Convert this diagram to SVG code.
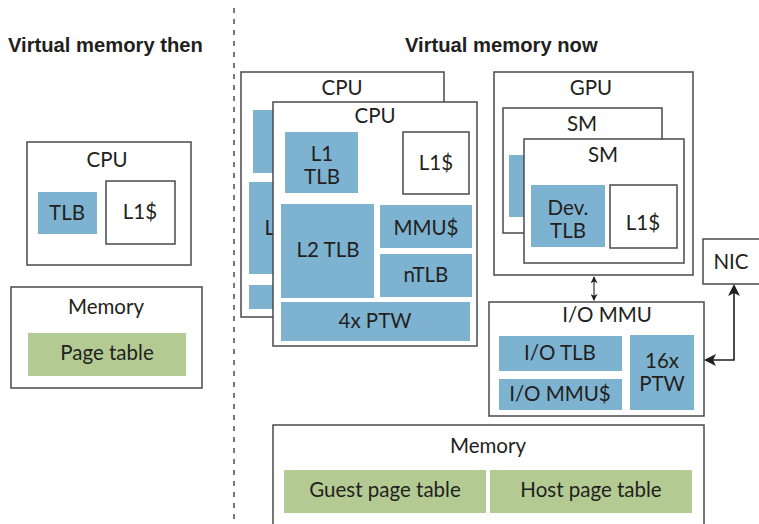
<svg xmlns="http://www.w3.org/2000/svg" width="759" height="524" viewBox="0 0 759 524">
  <defs>
    <style>
      .box { fill: #ffffff; stroke: #4a4a4a; stroke-width: 1.5; }
      .blue { fill: #7db3d1; }
      .green { fill: #b3cb93; }
      .t { font-family: Lato, "Liberation Sans", sans-serif; font-size: 20.5px; fill: #231f20; text-anchor: middle; }
      .title { font-family: "Liberation Sans", Arial, sans-serif; font-size: 20.2px; font-weight: bold; fill: #231f20; }
      .wire { fill: none; stroke: #231f20; stroke-width: 1.6; }
      .thin { fill: none; stroke: #231f20; stroke-width: 1.1; }
    </style>
    <marker id="arrow" viewBox="0 0 12 12" refX="10" refY="6" markerWidth="12" markerHeight="12" markerUnits="userSpaceOnUse" orient="auto-start-reverse">
      <path d="M0,0 L12,6 L0,12 L3,6 Z" fill="#231f20"/>
    </marker>
    <marker id="arrowSmall" viewBox="0 0 8 8" refX="7" refY="4" markerWidth="7" markerHeight="7" markerUnits="userSpaceOnUse" orient="auto-start-reverse">
      <path d="M0,0 L8,4 L0,8 L2,4 Z" fill="#231f20"/>
    </marker>
  </defs>

  <rect width="759" height="524" fill="#ffffff"/>

  <!-- divider between the two halves -->
  <line x1="234" y1="8" x2="234" y2="524" stroke="#555" stroke-width="1.6" stroke-dasharray="5 6"/>

  <!-- headings -->
  <text class="title" x="8" y="52">Virtual memory then</text>
  <text class="title" x="405" y="52">Virtual memory now</text>

  <!-- ===== then: single CPU and memory ===== -->
  <g id="cpu-then">
    <rect class="box" x="27" y="142" width="164" height="123"/>
    <text class="t" x="107" y="167">CPU</text>
    <rect class="blue" x="38" y="192" width="59" height="42"/>
    <text class="t" x="67" y="220">TLB</text>
    <rect class="box" x="106" y="181" width="69" height="63"/>
    <text class="t" x="140" y="219">L1$</text>
  </g>

  <g id="memory-then">
    <rect class="box" x="11" y="287" width="191" height="101"/>
    <text class="t" x="106" y="314">Memory</text>
    <rect class="green" x="28" y="333" width="158" height="43"/>
    <text class="t" x="107" y="360">Page table</text>
  </g>

  <!-- ===== now: CPU cores ===== -->
  <g id="cpu-back">
    <rect class="box" x="241" y="72" width="203" height="245"/>
    <text class="t" x="342" y="95">CPU</text>
    <rect class="blue" x="253" y="110" width="60" height="63"/>
    <rect class="blue" x="249" y="182" width="80" height="92"/>
    <text class="t" x="296" y="235">L2 TLB</text>
    <rect class="blue" x="249" y="285" width="80" height="24"/>
  </g>

  <g id="cpu-front">
    <rect class="box" x="273" y="102" width="204" height="244"/>
    <text class="t" x="375" y="123">CPU</text>
    <rect class="blue" x="285" y="132" width="73" height="61"/>
    <text class="t"><tspan x="322" y="161">L1</tspan><tspan x="322" y="184">TLB</tspan></text>
    <rect class="box" x="403" y="132" width="66" height="62"/>
    <text class="t" x="436" y="170">L1$</text>
    <rect class="blue" x="281" y="204" width="93" height="94"/>
    <text class="t" x="328" y="257">L2 TLB</text>
    <rect class="blue" x="380" y="205" width="92" height="43"/>
    <text class="t" x="426" y="235">MMU$</text>
    <rect class="blue" x="380" y="254" width="92" height="43"/>
    <text class="t" x="426" y="282">nTLB</text>
    <rect class="blue" x="281" y="302" width="189" height="39"/>
    <text class="t" x="375" y="328">4x PTW</text>
  </g>

  <!-- ===== now: GPU ===== -->
  <g id="gpu">
    <rect class="box" x="494" y="72" width="199" height="203"/>
    <text class="t" x="591" y="95">GPU</text>
  </g>

  <g id="sm-back">
    <rect class="box" x="503" y="108" width="159" height="125"/>
    <text class="t" x="582" y="131">SM</text>
    <rect class="blue" x="509" y="155" width="40" height="62"/>
  </g>

  <g id="sm-front">
    <rect class="box" x="524" y="139" width="160" height="124"/>
    <text class="t" x="603" y="162">SM</text>
    <rect class="blue" x="531" y="185" width="74" height="62"/>
    <text class="t"><tspan x="568" y="215">Dev.</tspan><tspan x="568" y="238">TLB</tspan></text>
    <rect class="box" x="610" y="185" width="67" height="63"/>
    <text class="t" x="643" y="230">L1$</text>
  </g>

  <!-- ===== now: NIC ===== -->
  <g id="nic">
    <rect class="box" x="703" y="239" width="60" height="45"/>
    <text class="t" x="731" y="269">NIC</text>
  </g>

  <!-- ===== now: I/O MMU ===== -->
  <g id="io-mmu">
    <rect class="box" x="489" y="302" width="215" height="114"/>
    <text class="t" x="607" y="322">I/O MMU</text>
    <rect class="blue" x="499" y="336" width="123" height="35"/>
    <text class="t" x="560" y="360">I/O TLB</text>
    <rect class="blue" x="499" y="379" width="123" height="31"/>
    <text class="t" x="560" y="401">I/O MMU$</text>
    <rect class="blue" x="630" y="335" width="64" height="75"/>
    <text class="t"><tspan x="662" y="368">16x</tspan><tspan x="662" y="391">PTW</tspan></text>
  </g>

  <!-- ===== now: memory ===== -->
  <g id="memory-now">
    <rect class="box" x="273" y="425" width="431" height="110"/>
    <text class="t" x="488" y="453">Memory</text>
    <rect class="green" x="284" y="470" width="202" height="43"/>
    <text class="t" x="385" y="497">Guest page table</text>
    <rect class="green" x="490" y="470" width="202" height="43"/>
    <text class="t" x="591" y="497">Host page table</text>
  </g>

  <!-- connectors -->
  <g id="connectors">
    <line class="thin" x1="594" y1="277" x2="594" y2="300" marker-start="url(#arrowSmall)" marker-end="url(#arrowSmall)"/>
    <path class="wire" d="M734,286 V360 H706" marker-start="url(#arrow)" marker-end="url(#arrow)"/>
  </g>
</svg>
